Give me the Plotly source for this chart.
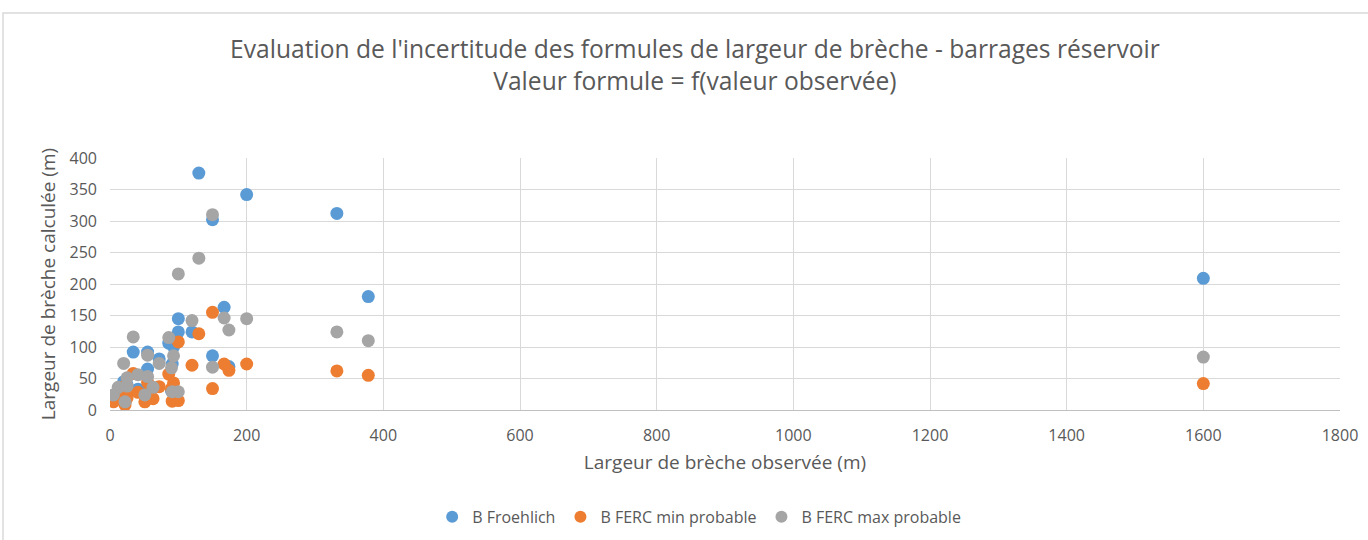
import plotly.graph_objects as go

# one entry per dam: observed width, and the three formula results
observed = [1600, 378, 332, 200, 130, 150, 150, 167, 174, 120, 100, 100, 86, 93, 91, 90,
            72, 55, 55, 51, 34, 25, 25, 20, 5, 12, 22, 63, 41]
b_froehlich = [209, 180, 312, 342, 376, 302, 86, 163, 69, 124, 145, 124, 106, 100, 73, 30,
               81, 92, 65, 28, 92, 40, 30, 45, 20, 28, 12, 35, 33]
b_ferc_min = [42, 55, 62, 73, 121, 155, 34, 73, 63, 71, 108, 15, 57, 43, 14, 34,
              37, 44, 26, 13, 58, 25, 19, 37, 13, 18, 8, 18, 28]
b_ferc_max = [84, 110, 124, 145, 241, 310, 68, 146, 127, 142, 216, 29, 115, 86, 29, 67,
              74, 87, 53, 24, 116, 51, 38, 74, 24, 36, 13, 36, 56]

series = [
    ("B Froehlich", b_froehlich, "#5B9BD5"),
    ("B FERC min probable", b_ferc_min, "#ED7D31"),
    ("B FERC max probable", b_ferc_max, "#A5A5A5"),
]

fig = go.Figure()
for name, vals, col in series:
    fig.add_trace(go.Scatter(x=observed, y=vals, mode="markers", name=name,
                             marker=dict(color=col, size=13, line=dict(width=0))))

font_main = "Open Sans, Lato, sans-serif"
fig.update_layout(
    width=1368, height=540,
    margin=dict(l=110, r=28, t=158, b=130),
    paper_bgcolor="white", plot_bgcolor="white",
    font=dict(family=font_main, color="#595959", size=16),
    title=dict(text="Evaluation de l'incertitude des formules de largeur de brèche - barrages réservoir<br>Valeur formule = f(valeur observée)",
               x=0.508, xanchor="center", y=0.893, yanchor="middle",
               font=dict(size=24.6, color="#595959")),
    showlegend=True,
    legend=dict(orientation="h", x=0.479, xanchor="center", xref="paper",
                y=0.043, yanchor="middle", yref="container",
                font=dict(size=16, color="#595959"), itemsizing="constant"),
    xaxis=dict(range=[0, 1800], dtick=200, showgrid=True, gridcolor="#D9D9D9",
               zeroline=False, showline=True, linecolor="#BFBFBF", ticks="",
               ticklabelstandoff=11, automargin=False,
               title=dict(text="Largeur de brèche observée (m)", standoff=10,
                          font=dict(size=19, color="#595959"))),
    yaxis=dict(range=[0, 400], dtick=50, showgrid=True, gridcolor="#D9D9D9",
               zeroline=False, showline=False, ticks="",
               ticklabelstandoff=12, automargin=False,
               title=dict(text="Largeur de brèche calculée (m)", standoff=8,
                          font=dict(size=19, color="#595959"))),
)

# outer chart border like the spreadsheet frame
fig.add_shape(type="rect", xref="paper", yref="paper", x0=-0.087, x1=1.1, y0=-0.6, y1=1.575,
              line=dict(color="#D9D9D9", width=1.5), fillcolor="rgba(0,0,0,0)", layer="below")

fig.write_html("out.html", config={"displayModeBar": False},
               post_script="document.body.style.margin='0';")
